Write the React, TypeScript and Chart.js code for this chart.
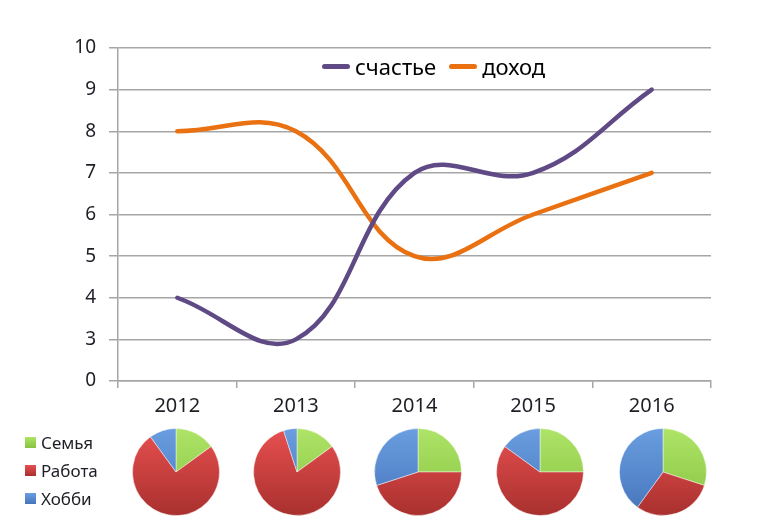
import React, { useEffect, useRef } from "react";
import { Chart, registerables } from "chart.js";

Chart.register(...registerables);

const years = ["2012", "2013", "2014", "2015", "2016"];
const happiness = [4, 3, 7, 7, 9];
const income = [8, 8, 5, 6, 7];
const yTickValues = [2, 3, 4, 5, 6, 7, 8, 9, 10];
const yTickLabels = ["0", "3", "4", "5", "6", "7", "8", "9", "10"];

const pieCategories = ["Семья", "Работа", "Хобби"];
const family = [15, 15, 25, 25, 30];
const work = [75, 80, 45, 60, 30];
const hobby = [10, 5, 30, 15, 40];

const lineSeriesNames = ["счастье", "доход"];
const lineColors = ["#5f4a86", "#ea7112"];
const pieLight = ["#aee468", "#e85050", "#6a9ee0"];
const pieDark = ["#86c23f", "#a8302e", "#4674bc"];

const FONT = "'Noto Sans', 'Open Sans', sans-serif";
const TEXT = "#1e1e26";
const GRID = "#a6a6a6";

const pieCenters = [176, 297, 418, 540, 663];
const PIE_SIZE = 90;

function LineChart() {
  const ref = useRef<HTMLCanvasElement | null>(null);
  useEffect(() => {
    if (!ref.current) return;
    const chart = new Chart(ref.current, {
      type: "line",
      data: {
        labels: years,
        datasets: [
          {
            label: lineSeriesNames[0],
            data: happiness,
            borderColor: lineColors[0],
            backgroundColor: lineColors[0],
            borderWidth: 4.5,
            tension: 0.4,
            pointRadius: 0,
            borderCapStyle: "round",
            fill: false,
          },
          {
            label: lineSeriesNames[1],
            data: income,
            borderColor: lineColors[1],
            backgroundColor: lineColors[1],
            borderWidth: 4.5,
            tension: 0.4,
            pointRadius: 0,
            borderCapStyle: "round",
            fill: false,
          },
        ],
      },
      options: {
        responsive: false,
        animation: false,
        layout: { padding: { left: 0, right: 59, top: 48, bottom: 0 } },
        plugins: { legend: { display: false }, tooltip: { enabled: false } },
        scales: {
          x: {
            type: "category",
            offset: true,
            grid: {
              display: true,
              drawOnChartArea: false,
              drawTicks: true,
              tickLength: 7,
              offset: true,
              color: GRID,
              lineWidth: 1.5,
            },
            border: { color: GRID, width: 1.5 },
            ticks: {
              color: TEXT,
              font: { family: FONT, size: 20 },
              padding: 6,
            },
            afterFit: (s: any) => {
              s.height = 430 - 381;
            },
          },
          y: {
            min: 2,
            max: 10,
            afterBuildTicks: (s: any) => {
              s.ticks = yTickValues.map((v) => ({ value: v }));
            },
            ticks: {
              color: TEXT,
              font: { family: FONT, size: 19 },
              padding: 13,
              callback: (v: any) => {
                const i = yTickValues.indexOf(Number(v));
                return i >= 0 ? yTickLabels[i] : "";
              },
            },
            grid: { color: GRID, lineWidth: 1.5, tickLength: 9 },
            border: { color: GRID, width: 1.5 },
            afterFit: (s: any) => {
              s.width = 118;
            },
          },
        },
      },
    });
    return () => chart.destroy();
  }, []);
  return (
    <canvas
      ref={ref}
      width={770}
      height={430}
      style={{ position: "absolute", left: 0, top: 0, width: 770, height: 430 }}
    />
  );
}

function Pie({ index }: { index: number }) {
  const ref = useRef<HTMLCanvasElement | null>(null);
  useEffect(() => {
    if (!ref.current) return;
    const chart = new Chart(ref.current, {
      type: "pie",
      data: {
        labels: pieCategories,
        datasets: [
          {
            data: [family[index], work[index], hobby[index]],
            backgroundColor: (ctx: any) => {
              const c = ctx.chart;
              const area = c.chartArea;
              const i = ctx.dataIndex;
              if (!area) return pieLight[i];
              const g = c.ctx.createLinearGradient(0, area.top, 0, area.bottom);
              g.addColorStop(0, pieLight[i]);
              g.addColorStop(1, pieDark[i]);
              return g;
            },
            borderColor: "rgba(255,255,255,0.45)",
            borderWidth: 1,
          },
        ],
      },
      options: {
        responsive: false,
        animation: false,
        layout: { padding: 1 },
        plugins: { legend: { display: false }, tooltip: { enabled: false } },
      },
    });
    return () => chart.destroy();
  }, [index]);
  return (
    <canvas
      ref={ref}
      width={PIE_SIZE}
      height={PIE_SIZE}
      style={{
        position: "absolute",
        left: pieCenters[index] - PIE_SIZE / 2,
        top: 472 - PIE_SIZE / 2,
        width: PIE_SIZE,
        height: PIE_SIZE,
      }}
    />
  );
}

export default function App() {
  useEffect(() => {
    document.body.style.margin = "0";
  }, []);
  return (
    <div
      style={{
        position: "relative",
        width: 770,
        height: 527,
        background: "#fff",
        overflow: "hidden",
        fontFamily: FONT,
      }}
    >
      <LineChart />
      <div
        style={{
          position: "absolute",
          left: 322,
          top: 51,
          display: "flex",
          alignItems: "center",
          fontSize: 22,
          color: "#000",
          whiteSpace: "nowrap",
        }}
      >
        {lineSeriesNames.map((n, i) => (
          <div key={n} style={{ display: "flex", alignItems: "center", marginRight: 13 }}>
            <div
              style={{
                width: 28,
                height: 5,
                borderRadius: 3,
                background: lineColors[i],
                marginRight: 5,
              }}
            />
            <span>{n}</span>
          </div>
        ))}
      </div>
      {years.map((y, i) => (
        <Pie key={y} index={i} />
      ))}
      <div style={{ position: "absolute", left: 25, top: 428, fontSize: 17, color: TEXT }}>
        {pieCategories.map((n, i) => (
          <div key={n} style={{ display: "flex", alignItems: "center", height: 28 }}>
            <div
              style={{
                width: 11,
                height: 11,
                background: `linear-gradient(${pieLight[i]}, ${pieDark[i]})`,
                marginRight: 5,
              }}
            />
            <span>{n}</span>
          </div>
        ))}
      </div>
    </div>
  );
}
